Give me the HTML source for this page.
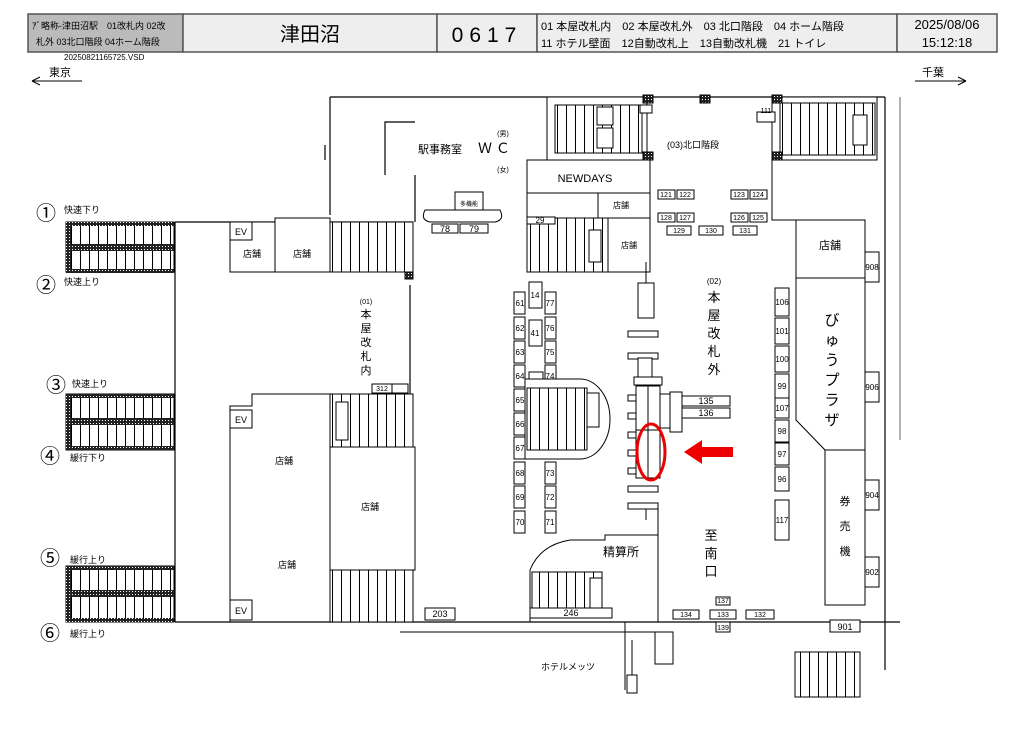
<!DOCTYPE html>
<html><head><meta charset="utf-8"><style>
body{margin:0;background:#fff}
svg{display:block}
text{font-family:"Liberation Sans","Noto Sans CJK JP",sans-serif;fill:#000}
</style></head><body>
<svg width="1024" height="730" viewBox="0 0 1024 730" xmlns="http://www.w3.org/2000/svg">
<defs>
<pattern id="st" width="9" height="10" patternUnits="userSpaceOnUse"><rect width="9" height="10" fill="#fff"/><line x1="8.5" y1="0" x2="8.5" y2="10" stroke="#000" stroke-width="1"/></pattern>
<pattern id="dk" width="3" height="3" patternUnits="userSpaceOnUse"><rect width="3" height="3" fill="#222"/><rect width="1" height="1" fill="#fff"/></pattern>
</defs>
<!-- header -->
<g stroke="#555" stroke-width="1.5">
<rect x="28" y="14" width="155" height="38" fill="#bbb"/>
<rect x="183" y="14" width="254" height="38" fill="#eee"/>
<rect x="437" y="14" width="100" height="38" fill="#eee"/>
<rect x="537" y="14" width="360" height="38" fill="#eee"/>
<rect x="897" y="14" width="100" height="38" fill="#eee"/>
</g>
<text x="32" y="29" font-size="9">ｱﾞ略称-津田沼駅　01改札内 02改</text>
<text x="36" y="45" font-size="9">札外 03北口階段 04ホーム階段</text>
<text x="64" y="60" font-size="8">20250821165725.VSD</text>
<text x="310" y="41" font-size="20" text-anchor="middle">津田沼</text>
<text x="487" y="42" font-size="21" text-anchor="middle" letter-spacing="6">0617</text>
<text x="541" y="30" font-size="11">01 本屋改札内　02 本屋改札外　03 北口階段　04 ホーム階段</text>
<text x="541" y="47" font-size="11">11 ホテル壁面　12自動改札上　13自動改札機　21 トイレ</text>
<text x="947" y="29" font-size="13" text-anchor="middle">2025/08/06</text>
<text x="947" y="47" font-size="13" text-anchor="middle">15:12:18</text>
<text x="49" y="76" font-size="11">東京</text>
<path d="M32 81 H82 M32 81 l8 -4 M32 81 l8 4" stroke="#000" fill="none"/>
<text x="922" y="76" font-size="11">千葉</text>
<path d="M915 81 H966 M966 81 l-8 -4 M966 81 l-8 4" stroke="#000" fill="none"/>

<g stroke="#000" stroke-width="1.2" fill="none">
<path d="M330 97 H885 M330 97 V215 M415 175 V222 M175 222 H413 M175 222 V622 M175 622 H900 M885 97 V670"/>
<path d="M415 122 H385 V175 M325 145 V160"/>
<path d="M410 285 V394"/>
</g>
<!-- left platforms stairs -->
<g>
<rect x="66" y="222" width="108" height="50" fill="url(#st)" stroke="#000"/>
<rect x="66" y="222" width="108" height="4" fill="url(#dk)"/><rect x="66" y="244" width="108" height="7" fill="url(#dk)"/><rect x="66" y="269" width="108" height="4" fill="url(#dk)"/><rect x="66" y="222" width="5" height="51" fill="url(#dk)"/>
<rect x="66" y="394" width="108" height="56" fill="url(#st)" stroke="#000"/>
<rect x="66" y="394" width="108" height="4" fill="url(#dk)"/><rect x="66" y="418" width="108" height="7" fill="url(#dk)"/><rect x="66" y="446" width="108" height="4" fill="url(#dk)"/><rect x="66" y="394" width="5" height="56" fill="url(#dk)"/>
<rect x="66" y="566" width="108" height="56" fill="url(#st)" stroke="#000"/>
<rect x="66" y="566" width="108" height="4" fill="url(#dk)"/><rect x="66" y="590" width="108" height="7" fill="url(#dk)"/><rect x="66" y="618" width="108" height="4" fill="url(#dk)"/><rect x="66" y="566" width="5" height="56" fill="url(#dk)"/>
</g>
<g font-size="20"><text x="36" y="220">①</text><text x="36" y="292">②</text><text x="46" y="392">③</text><text x="40" y="463">④</text><text x="40" y="565">⑤</text><text x="40" y="640">⑥</text></g>
<g font-size="9"><text x="64" y="213">快速下り</text><text x="64" y="285">快速上り</text><text x="72" y="387">快速上り</text><text x="70" y="461">緩行下り</text><text x="70" y="563">緩行上り</text><text x="70" y="637">緩行上り</text></g>

<g stroke="#000" stroke-width="1" fill="#fff">
<rect x="230" y="222" width="45" height="50"/><rect x="230" y="222" width="22" height="18"/>
<rect x="275" y="218" width="55" height="54"/>
<rect x="330" y="222" width="83" height="50" fill="url(#st)"/>
<path d="M230 622 V406 H252 V394 H413" fill="none"/>
<rect x="230" y="410" width="22" height="18"/><rect x="230" y="600" width="22" height="20"/>
<rect x="330" y="394" width="83" height="53" fill="url(#st)"/>
<rect x="336" y="402" width="12" height="38"/>
<rect x="330" y="447" width="85" height="123"/>
<rect x="330" y="570" width="83" height="52" fill="url(#st)"/>
<rect x="372" y="384" width="20" height="9"/><rect x="392" y="384" width="16" height="9"/>
<rect x="455" y="192" width="28" height="22"/>
<path d="M425 210 H500 Q505 220 495 222 H430 Q420 220 425 210Z"/>
<rect x="432" y="224" width="26" height="9"/><rect x="460" y="224" width="28" height="9"/>
<rect x="547" y="97" width="100" height="63"/>
<rect x="555" y="105" width="87" height="48" fill="url(#st)"/>
<rect x="597" y="107" width="16" height="18"/><rect x="597" y="128" width="16" height="20"/>
<rect x="772" y="97" width="105" height="63"/>
<rect x="780" y="103" width="95" height="52" fill="url(#st)"/>
<rect x="853" y="115" width="14" height="30"/>
<rect x="643" y="95" width="10" height="8" fill="url(#dk)"/><rect x="700" y="95" width="10" height="8" fill="url(#dk)"/><rect x="772" y="95" width="10" height="8" fill="url(#dk)"/>
<rect x="643" y="152" width="10" height="8" fill="url(#dk)"/><rect x="772" y="152" width="10" height="8" fill="url(#dk)"/>
<rect x="405" y="272" width="8" height="7" fill="url(#dk)"/>
<rect x="527" y="160" width="123" height="33"/>
<rect x="527" y="193" width="71" height="25"/><rect x="598" y="193" width="52" height="25"/>
<rect x="527" y="218" width="81" height="54" fill="url(#st)"/>
<rect x="589" y="230" width="12" height="32"/>
<rect x="527" y="217" width="28" height="7"/>
<rect x="608" y="218" width="42" height="54"/>
<path d="M772 160 V220 H796" fill="none"/>
<rect x="796" y="220" width="69" height="58"/>
<path d="M796 278 H865 V605 H825 V450 H865 M796 278 V420 L825 450" fill="none"/>
<rect x="825" y="450" width="40" height="155"/>
<path d="M900 97 V440" fill="none" stroke="#666"/>
<rect x="865" y="252" width="14" height="30"/><rect x="865" y="372" width="14" height="30"/><rect x="865" y="480" width="14" height="30"/><rect x="865" y="557" width="14" height="30"/>
<rect x="775" y="288" width="14" height="28"/><rect x="775" y="318" width="14" height="26"/><rect x="775" y="346" width="14" height="26"/><rect x="775" y="374" width="14" height="24"/><rect x="775" y="398" width="14" height="20"/><rect x="775" y="420" width="14" height="22"/><rect x="775" y="443" width="14" height="22"/><rect x="775" y="467" width="14" height="24"/><rect x="775" y="500" width="14" height="40"/>
<rect x="830" y="620" width="30" height="12"/>
<rect x="658" y="190" width="17" height="9"/><rect x="677" y="190" width="17" height="9"/><rect x="731" y="190" width="17" height="9"/><rect x="750" y="190" width="17" height="9"/>
<rect x="658" y="213" width="17" height="9"/><rect x="677" y="213" width="17" height="9"/><rect x="731" y="213" width="17" height="9"/><rect x="750" y="213" width="17" height="9"/>
<rect x="667" y="226" width="24" height="9"/><rect x="699" y="226" width="24" height="9"/><rect x="733" y="226" width="24" height="9"/>
<g>
<rect x="514" y="292" width="11" height="22"/><rect x="514" y="317" width="11" height="22"/><rect x="514" y="341" width="11" height="22"/><rect x="514" y="365" width="11" height="22"/><rect x="514" y="389" width="11" height="22"/><rect x="514" y="413" width="11" height="22"/><rect x="514" y="437" width="11" height="22"/><rect x="514" y="462" width="11" height="22"/><rect x="514" y="486" width="11" height="22"/><rect x="514" y="511" width="11" height="22"/>
<rect x="529" y="282" width="13" height="26"/><rect x="529" y="320" width="13" height="26"/>
<rect x="545" y="292" width="11" height="22"/><rect x="545" y="317" width="11" height="22"/><rect x="545" y="341" width="11" height="22"/><rect x="545" y="365" width="11" height="22"/>
<rect x="545" y="462" width="11" height="22"/><rect x="545" y="486" width="11" height="22"/><rect x="545" y="511" width="11" height="22"/>
<rect x="529" y="372" width="14" height="8"/>
</g>
<path d="M525 379 H580 A30 40 0 0 1 580 459 H525 Z"/>
<rect x="527" y="388" width="60" height="62" fill="url(#st)"/>
<rect x="587" y="393" width="12" height="34"/>
<rect x="638" y="283" width="16" height="35"/>
<path d="M646 262 V283 M646 505 V520" fill="none"/>
<g fill="#fff"><rect x="628" y="331" width="30" height="6"/><rect x="628" y="353" width="30" height="6"/><rect x="628" y="486" width="30" height="6"/><rect x="628" y="503" width="30" height="6"/></g>
<g fill="#fff"><rect x="628" y="395" width="8" height="6"/><rect x="628" y="413" width="8" height="6"/><rect x="628" y="432" width="8" height="6"/><rect x="628" y="450" width="8" height="6"/><rect x="628" y="468" width="8" height="6"/></g>
<rect x="638" y="358" width="14" height="30"/>
<rect x="634" y="377" width="28" height="8"/>
<rect x="636" y="386" width="12" height="44"/><rect x="648" y="386" width="12" height="44"/>
<rect x="636" y="430" width="12" height="48"/><rect x="648" y="430" width="12" height="48"/>
<rect x="660" y="394" width="10" height="34"/><rect x="670" y="392" width="12" height="40"/>
<rect x="682" y="396" width="48" height="10"/><rect x="682" y="408" width="48" height="10"/>
<path d="M530 622 V570 Q540 545 570 540 H605 V535 H658 V622" fill="none"/>
<rect x="532" y="572" width="70" height="40" fill="url(#st)"/>
<rect x="590" y="578" width="12" height="30"/>
<rect x="530" y="608" width="82" height="10"/>
<path d="M658 505 V535" fill="none"/>
<rect x="425" y="608" width="30" height="12"/>
<rect x="673" y="610" width="26" height="9"/><rect x="710" y="610" width="26" height="9"/><rect x="746" y="610" width="28" height="9"/>
<rect x="716" y="597" width="14" height="8"/><rect x="716" y="622" width="14" height="10"/>
<rect x="655" y="632" width="18" height="32"/>
<path d="M625 622 V690 M632 640 V690 M400 632 H658" fill="none"/>
<rect x="627" y="675" width="10" height="18"/>
<rect x="795" y="652" width="65" height="45" fill="url(#st)"/>
<rect x="757" y="112" width="18" height="10"/><rect x="640" y="105" width="12" height="8"/>
</g>
<ellipse cx="651" cy="452" rx="14" ry="28" fill="none" stroke="#e00" stroke-width="3"/>
<path d="M733 447 H702 V440 L684 452 L702 464 V457 H733 Z" fill="#e00"/>
<g font-size="9" text-anchor="middle">
<text x="241" y="235">EV</text><text x="252" y="257">店舗</text><text x="302" y="257">店舗</text>
<text x="241" y="423">EV</text><text x="241" y="614">EV</text>
<text x="284" y="464">店舗</text><text x="370" y="510">店舗</text><text x="287" y="568">店舗</text>
<text x="382" y="391" font-size="7">312</text>
<text x="469" y="206" font-size="6">多機能</text>
<text x="445" y="232">78</text><text x="474" y="232">79</text>
<text x="621" y="208" font-size="8">店舗</text><text x="629" y="248" font-size="8">店舗</text>
<text x="540" y="223" font-size="8">29</text>
<text x="830" y="249" font-size="11">店舗</text>
<text x="666" y="197" font-size="7">121</text><text x="685" y="197" font-size="7">122</text><text x="739" y="197" font-size="7">123</text><text x="758" y="197" font-size="7">124</text>
<text x="666" y="220" font-size="7">128</text><text x="685" y="220" font-size="7">127</text><text x="739" y="220" font-size="7">126</text><text x="758" y="220" font-size="7">125</text>
<text x="679" y="233" font-size="7">129</text><text x="711" y="233" font-size="7">130</text><text x="745" y="233" font-size="7">131</text>
<text x="706" y="404">135</text><text x="706" y="416">136</text>
<text x="571" y="616">246</text><text x="440" y="617">203</text><text x="845" y="630">901</text>
<text x="686" y="617" font-size="7">134</text><text x="723" y="617" font-size="7">133</text><text x="760" y="617" font-size="7">132</text><text x="723" y="603" font-size="7">137</text><text x="723" y="630" font-size="7">139</text>
<text x="766" y="113" font-size="7">111</text>
<text x="503" y="136" font-size="7">(男)</text><text x="503" y="172" font-size="7">(女)</text>
</g>
<g font-size="8" text-anchor="middle">
<text x="520" y="306">61</text><text x="520" y="331">62</text><text x="520" y="355">63</text><text x="520" y="379">64</text><text x="520" y="403">65</text><text x="520" y="427">66</text><text x="520" y="451">67</text><text x="520" y="476">68</text><text x="520" y="500">69</text><text x="520" y="525">70</text>
<text x="550" y="306">77</text><text x="550" y="331">76</text><text x="550" y="355">75</text><text x="550" y="379">74</text><text x="550" y="476">73</text><text x="550" y="500">72</text><text x="550" y="525">71</text>
<text x="535" y="298">14</text><text x="535" y="336">41</text>
<text x="782" y="305">106</text><text x="782" y="334">101</text><text x="782" y="362">100</text><text x="782" y="389">99</text><text x="782" y="411">107</text><text x="782" y="434">98</text><text x="782" y="457">97</text><text x="782" y="482">96</text><text x="782" y="523">117</text>
<text x="872" y="270">908</text><text x="872" y="390">906</text><text x="872" y="498">904</text><text x="872" y="575">902</text>
</g>
<text x="418" y="153" font-size="11">駅事務室</text>
<text x="478" y="153" font-size="14">Ｗ Ｃ</text>
<text x="585" y="182" font-size="11" text-anchor="middle">NEWDAYS</text>
<text x="667" y="148" font-size="9">(03)北口階段</text>
<text x="714" y="284" font-size="8" text-anchor="middle">(02)</text>
<g font-size="13" text-anchor="middle"><text x="714" y="302">本</text><text x="714" y="320">屋</text><text x="714" y="338">改</text><text x="714" y="356">札</text><text x="714" y="374">外</text>
<text x="711" y="540">至</text><text x="711" y="558">南</text><text x="711" y="576">口</text></g>
<text x="366" y="304" font-size="7" text-anchor="middle">(01)</text>
<g font-size="11" text-anchor="middle"><text x="366" y="318">本</text><text x="366" y="332">屋</text><text x="366" y="346">改</text><text x="366" y="360">札</text><text x="366" y="374">内</text></g>
<g font-size="15" text-anchor="middle"><text x="832" y="325">び</text><text x="832" y="345">ゅ</text><text x="832" y="365">う</text><text x="832" y="385">プ</text><text x="832" y="405">ラ</text><text x="832" y="425">ザ</text></g>
<g font-size="11" text-anchor="middle"><text x="845" y="505">券</text><text x="845" y="530">売</text><text x="845" y="555">機</text></g>
<text x="603" y="556" font-size="12">精算所</text>
<text x="541" y="670" font-size="9">ホテルメッツ</text>
</svg>
</body></html>
